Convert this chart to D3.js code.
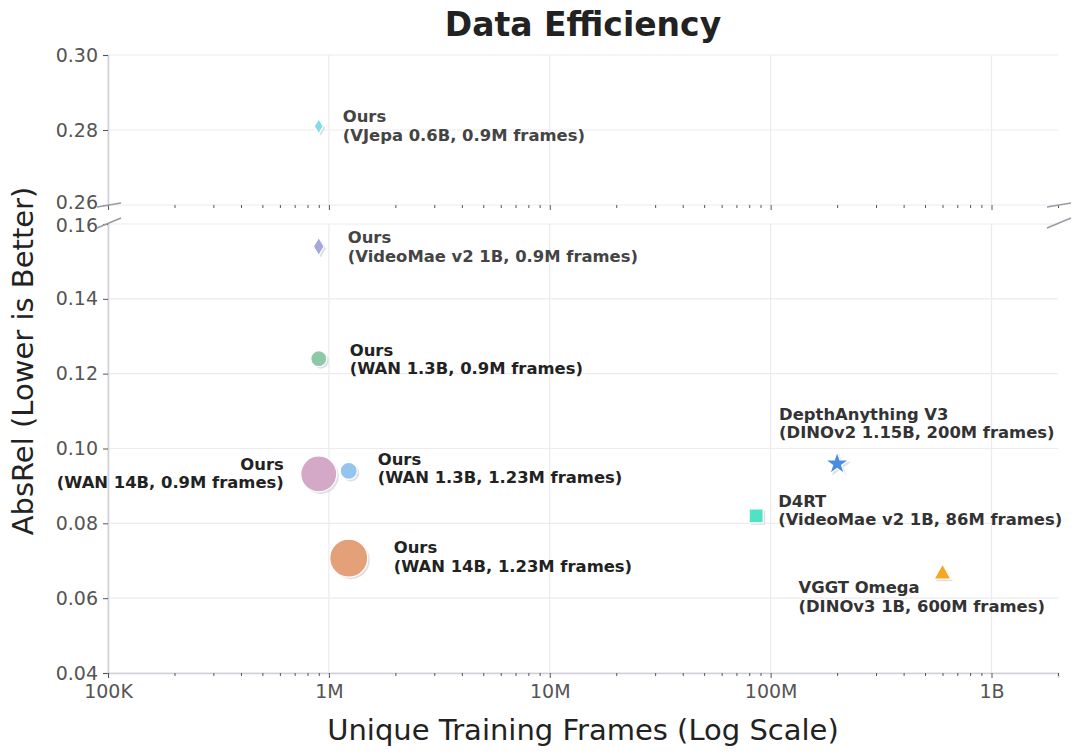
<!DOCTYPE html>
<html>
<head>
<meta charset="utf-8">
<script src="https://cdn.jsdelivr.net/npm/d3@7"></script>
<style>
  body { margin: 0; background: #fff; }
  svg, svg text { font-family: "DejaVu Sans", sans-serif; }
  .grid line { stroke: #ebebf0; stroke-width: 1.2; }
  .axis path { stroke: #cfd0d8; stroke-width: 1.6; }
  .axis line { stroke: #555; }
  .axis text { fill: #555; font-size: 19px; font-family: "DejaVu Sans", sans-serif; }
  .lbl { font-weight: bold; font-size: 16.4px; }
</style>
</head>
<body>
<div id="chart"></div>
<script>
// data
var models   = ["Ours", "Ours", "Ours", "Ours", "Ours", "Ours", "DepthAnything V3", "D4RT", "VGGT Omega"];
var details  = ["(VJepa 0.6B, 0.9M frames)", "(VideoMae v2 1B, 0.9M frames)", "(WAN 1.3B, 0.9M frames)",
                "(WAN 14B, 0.9M frames)", "(WAN 1.3B, 1.23M frames)", "(WAN 14B, 1.23M frames)",
                "(DINOv2 1.15B, 200M frames)", "(VideoMae v2 1B, 86M frames)", "(DINOv3 1B, 600M frames)"];
var frames   = [0.9e6, 0.9e6, 0.9e6, 0.9e6, 1.23e6, 1.23e6, 2e8, 8.6e7, 6e8];
var absRel   = [0.281, 0.154, 0.124, 0.0932, 0.094, 0.0707, 0.0959, 0.082, 0.0667];
var xTicks   = [1e5, 1e6, 1e7, 1e8, 1e9];
var xTickLabels = ["100K", "1M", "10M", "100M", "1B"];
var yTicksTop = [0.26, 0.28, 0.30];
var yTicksBottom = [0.04, 0.06, 0.08, 0.10, 0.12, 0.14, 0.16];

// styling per point
var colors  = ["#86dbe8", "#a4a9d9", "#8fc8a6", "#d4a8c7", "#95c5ec", "#e4a079", "#4a8de0", "#4fe3c3", "#f5a623"];
var shapes  = ["thin", "thin", "circle", "circle", "circle", "circle", "star", "square", "triangle"];
var sizes   = [15, 18, 8, 18, 8.5, 19, 9.5, 14, 17];
var labelDx = [24, 29, 31, -35, 29, 45, -58, 22, -144];
var labelDy = [-4, -3, -3, -4, -6, -5, -44, -9, 20];
var labelAnchor = ["start", "start", "start", "end", "start", "start", "start", "start", "start"];
var labelColor  = ["#444", "#444", "#222", "#222", "#222", "#222", "#333", "#333", "#333"];

var width = 1080, height = 756;
var left = 108, right = 1058;
var topPanel = {y0: 55, y1: 205}, botPanel = {y0: 224, y1: 673};

var svg = d3.select("#chart").append("svg").attr("width", width).attr("height", height);

var x = d3.scaleLog().domain([1e5, 2e9]).range([left, right]);
var yTop = d3.scaleLinear().domain([0.26, 0.30]).range([topPanel.y1, topPanel.y0]);
var yBot = d3.scaleLinear().domain([0.04, 0.16]).range([botPanel.y1, botPanel.y0]);

var minorTicks = [];
[1e5, 1e6, 1e7, 1e8, 1e9].forEach(function(d) {
  for (var k = 2; k <= 9; k++) if (d * k <= 2e9) minorTicks.push(d * k);
});

function panel(y, yTicks, p, showXLabels) {
  var g = svg.append("g");
  // grid
  g.append("g").attr("class", "grid").selectAll("line").data(xTicks).enter().append("line")
    .attr("x1", function(d) { return x(d); }).attr("x2", function(d) { return x(d); })
    .attr("y1", p.y0).attr("y2", p.y1);
  g.append("g").attr("class", "grid").selectAll("line").data(yTicks).enter().append("line")
    .attr("x1", left).attr("x2", right)
    .attr("y1", function(d) { return y(d); }).attr("y2", function(d) { return y(d); });
  // y axis
  g.append("g").attr("class", "axis yaxis").attr("transform", "translate(" + left + ",0)")
    .call(d3.axisLeft(y).tickValues(yTicks).tickSize(5).tickPadding(5).tickFormat(d3.format(".2f")));
  // x axis
  var xa = g.append("g").attr("class", "axis xaxis").attr("transform", "translate(0," + p.y1 + ")")
    .call(d3.axisBottom(x).tickValues(xTicks).tickSize(5).tickPadding(4)
      .tickFormat(function(d, i) { return showXLabels ? xTickLabels[i] : ""; }));
  if (!showXLabels) xa.select(".domain").remove();
  g.append("g").attr("class", "axis minor").attr("transform", "translate(0," + p.y1 + ")")
    .call(d3.axisBottom(x).tickValues(minorTicks).tickSize(3).tickFormat(""))
    .select(".domain").remove();
  return g;
}

panel(yTop, yTicksTop, topPanel, false);
panel(yBot, yTicksBottom, botPanel, true);
svg.selectAll(".xaxis .tick text").attr("y", 25).attr("dy", null);
// keep the two labels beside the break apart
svg.selectAll(".yaxis .tick text").filter(function(d) { return d === 0.26; }).attr("dy", "0.2em");
svg.selectAll(".yaxis .tick text").filter(function(d) { return d === 0.16; }).attr("dy", "0.42em");

// break marks
var brk = svg.append("g").attr("stroke", "#9a9ca4").attr("stroke-width", 1.5).attr("fill", "none");
[left - 11, right - 11].forEach(function(bx) {
  brk.append("line").attr("x1", bx).attr("y1", topPanel.y1 + 2).attr("x2", bx + 24).attr("y2", topPanel.y1 - 2);
  brk.append("line").attr("x1", bx).attr("y1", botPanel.y0 + 4).attr("x2", bx + 24).attr("y2", botPanel.y0 - 6);
});

// markers
function markerPath(shape, s) {
  if (shape === "circle") return d3.symbol().type(d3.symbolCircle).size(Math.PI * s * s)();
  if (shape === "square") return d3.symbol().type(d3.symbolSquare).size(s * s)();
  if (shape === "star") return d3.symbol().type(d3.symbolStar).size(s * s * 1.9)();
  if (shape === "triangle") {
    var h = s * 0.9, w = s / 2;
    return "M0," + (-h * 0.6) + "L" + w + "," + (h * 0.4) + "L" + (-w) + "," + (h * 0.4) + "Z";
  }
  // thin diamond
  var hh = s / 2, ww = s * 0.3;
  return "M0," + (-hh) + "L" + ww + ",0L0," + hh + "L" + (-ww) + ",0Z";
}

var pts = svg.append("g");
frames.forEach(function(f, i) {
  var y = absRel[i] >= 0.26 ? yTop : yBot;
  var px = x(f), py = y(absRel[i]);
  var d = markerPath(shapes[i], sizes[i]);
  pts.append("path").attr("d", d).attr("transform", "translate(" + (px + 2) + "," + (py + 2) + ")")
    .attr("fill", "#d8d8dc").attr("opacity", 0.8);
  pts.append("path").attr("d", d).attr("transform", "translate(" + px + "," + py + ")")
    .attr("fill", colors[i]).attr("stroke", "#fff").attr("stroke-width", 1.2);
  var t = pts.append("text").attr("class", "lbl").attr("fill", labelColor[i])
    .attr("text-anchor", labelAnchor[i])
    .attr("x", px + labelDx[i]).attr("y", py + labelDy[i]);
  t.append("tspan").attr("x", px + labelDx[i]).text(models[i]);
  t.append("tspan").attr("x", px + labelDx[i]).attr("dy", 18.5).text(details[i]);
});

// titles
svg.append("text").attr("x", (left + right) / 2).attr("y", 36).attr("text-anchor", "middle")
  .attr("font-size", 33).attr("font-weight", "bold").attr("fill", "#222").text("Data Efficiency");
svg.append("text").attr("x", (left + right) / 2).attr("y", 740).attr("text-anchor", "middle")
  .attr("font-size", 29).attr("fill", "#222").text("Unique Training Frames (Log Scale)");
svg.append("text").attr("transform", "translate(33,361) rotate(-90)").attr("text-anchor", "middle")
  .attr("font-size", 29).attr("fill", "#222").text("AbsRel (Lower is Better)");
</script>
</body>
</html>
